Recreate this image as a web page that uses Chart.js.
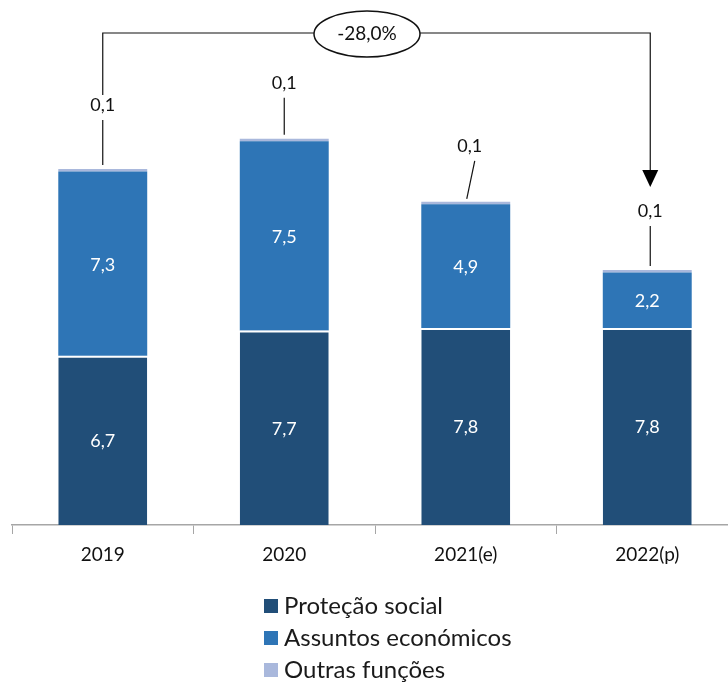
<!DOCTYPE html>
<html lang="pt">
<head>
<meta charset="UTF-8">
<title>Despesa por função</title>
<script src="https://cdn.jsdelivr.net/npm/chart.js"></script>
<style>
    html, body { margin: 0; padding: 0; background: #fff; overflow: hidden; }
    #wrap { width: 740px; height: 686px; }
</style>
</head>
<body>
<div id="wrap"><canvas id="grafico" width="740" height="686"></canvas></div>
<script>
    // dados
    const anos = ['2019', '2020', '2021(e)', '2022(p)'];
    const protecaoSocial = [6.7, 7.7, 7.8, 7.8];
    const assuntosEconomicos = [7.3, 7.5, 4.9, 2.2];
    const outrasFuncoes = [0.1, 0.1, 0.1, 0.1];
    const variacaoTexto = '-28,0%';

    // posição das etiquetas de 0,1 (px acima do topo da barra, desvio horizontal)
    const etiquetaAcima = [64, 56, 56, 59];
    const etiquetaDx = [0, 0, 4, 3];

    const FONTE = 'Lato, "Open Sans", sans-serif';
    const fmt = v => v.toFixed(1).replace('.', ',');

    const rotulos = {
        id: 'rotulos',
        afterDatasetsDraw(chart) {
            const ctx = chart.ctx;
            ctx.save();
            ctx.textAlign = 'center';
            ctx.textBaseline = 'middle';
            // valores dentro das barras
            [0, 1].forEach(di => {
                const meta = chart.getDatasetMeta(di);
                meta.data.forEach((bar, i) => {
                    const v = chart.data.datasets[di].data[i];
                    ctx.fillStyle = '#fff';
                    ctx.font = '18px ' + FONTE;
                    ctx.fillText(fmt(v), bar.x, (bar.y + bar.base) / 2 + 1);
                });
            });
            // etiquetas de "Outras funções" com linhas de chamada
            const meta2 = chart.getDatasetMeta(2);
            meta2.data.forEach((bar, i) => {
                const v = chart.data.datasets[2].data[i];
                const topo = bar.y;
                const ly = topo - etiquetaAcima[i];
                const lx = bar.x + etiquetaDx[i];
                ctx.fillStyle = '#111';
                ctx.font = '18px ' + FONTE;
                ctx.fillText(fmt(v), lx, ly);
                ctx.strokeStyle = '#111';
                ctx.lineWidth = 1.2;
                ctx.beginPath();
                if (i === 2) {
                    ctx.moveTo(lx + 5, ly + 15);
                    ctx.lineTo(bar.x + 1, topo - 3);
                } else {
                    ctx.moveTo(lx, ly + 15);
                    ctx.lineTo(lx, topo - 4);
                }
                ctx.stroke();
            });

            // seta de variação 2019 -> 2022
            const b0 = meta2.data[0];
            const b3 = meta2.data[3];
            const yTopo = 33;
            const x0 = b0.x;
            const x3 = b3.x + 3;
            const elX = 367, elRx = 53, elRy = 23;
            ctx.strokeStyle = '#111';
            ctx.lineWidth = 1.2;
            ctx.beginPath();
            ctx.moveTo(x0, b0.y - etiquetaAcima[0] - 10);
            ctx.lineTo(x0, yTopo);
            ctx.lineTo(elX - elRx, yTopo);
            ctx.moveTo(elX + elRx, yTopo);
            ctx.lineTo(x3, yTopo);
            ctx.lineTo(x3, 172);
            ctx.stroke();
            ctx.fillStyle = '#000';
            ctx.beginPath();
            ctx.moveTo(x3 - 8, 170);
            ctx.lineTo(x3 + 8, 170);
            ctx.lineTo(x3, 187);
            ctx.closePath();
            ctx.fill();
            ctx.beginPath();
            ctx.ellipse(elX, yTopo + 1, elRx, elRy, 0, 0, Math.PI * 2);
            ctx.fillStyle = '#fff';
            ctx.fill();
            ctx.lineWidth = 1.5;
            ctx.stroke();
            ctx.fillStyle = '#111';
            ctx.font = '19px ' + FONTE;
            ctx.fillText(variacaoTexto, elX, yTopo + 1);
            ctx.restore();
        }
    };

    const legenda = {
        id: 'legenda',
        afterDraw(chart) {
            const ctx = chart.ctx;
            ctx.save();
            ctx.font = '24px ' + FONTE;
            ctx.textBaseline = 'middle';
            ctx.textAlign = 'left';
            const ys = [606, 638, 670];
            chart.data.datasets.forEach((ds, i) => {
                ctx.fillStyle = ds.backgroundColor;
                ctx.fillRect(264, ys[i] - 7, 14, 14);
                ctx.fillStyle = '#1a1a1a';
                ctx.fillText(ds.label, 284, ys[i]);
            });
            ctx.restore();
        }
    };

    new Chart(document.getElementById('grafico'), {
        type: 'bar',
        data: {
            labels: anos,
            datasets: [{
                label: 'Proteção social',
                data: protecaoSocial,
                backgroundColor: '#214E78',
                borderColor: '#ffffff',
                borderWidth: { top: 2 },
                borderSkipped: false
            }, {
                label: 'Assuntos económicos',
                data: assuntosEconomicos,
                backgroundColor: '#2E75B6',
                borderWidth: 0
            }, {
                label: 'Outras funções',
                data: outrasFuncoes,
                backgroundColor: '#A9B8DC',
                borderWidth: 0
            }]
        },
        options: {
            responsive: false,
            animation: false,
            barPercentage: 0.49,
            categoryPercentage: 1,
            layout: { padding: { left: 12, right: 2, top: 15, bottom: 0 } },
            plugins: { legend: { display: false }, tooltip: { enabled: false } },
            scales: {
                x: {
                    stacked: true,
                    afterFit: s => { s.height = 161; },
                    grid: { drawOnChartArea: false, drawTicks: true, tickLength: 9, color: '#a6a6a6' },
                    border: { color: '#a6a6a6', width: 1.5 },
                    ticks: { color: '#111', font: { size: 19, family: FONTE }, padding: 9 }
                },
                y: {
                    stacked: true,
                    display: false,
                    min: 0,
                    max: 20.2
                }
            }
        },
        plugins: [rotulos, legenda]
    });
</script>
</body>
</html>
